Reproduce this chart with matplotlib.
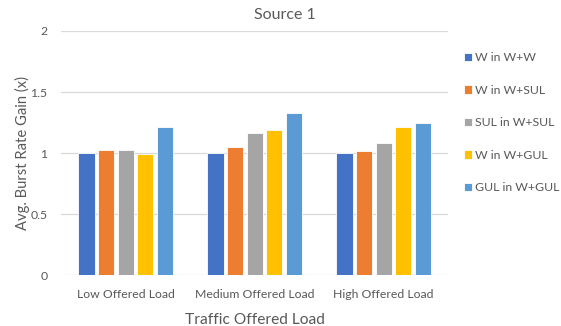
import numpy as np
import matplotlib
matplotlib.use("Agg")
import matplotlib.pyplot as plt

plt.rcParams['font.family'] = ['Lato', 'DejaVu Sans']

# Burst rate gain per offered load level
categories = ["Low Offered Load", "Medium Offered Load", "High Offered Load"]
series_names = ["W in W+W", "W in W+SUL", "SUL in W+SUL", "W in W+GUL", "GUL in W+GUL"]
w_in_ww = [1.00, 1.00, 1.00]
w_in_wsul = [1.025, 1.05, 1.015]
sul_in_wsul = [1.025, 1.165, 1.085]
w_in_wgul = [0.995, 1.19, 1.21]
gul_in_wgul = [1.21, 1.325, 1.245]
colors = ["#4472C4", "#ED7D31", "#A5A5A5", "#FFC000", "#5B9BD5"]

all_series = [w_in_ww, w_in_wsul, sul_in_wsul, w_in_wgul, gul_in_wgul]
text_color = "#595959"

fig = plt.figure(figsize=(5.61, 3.26), dpi=100)
ax = fig.add_axes([0.109, 0.156, 0.690, 0.749])

x = np.arange(len(categories))
step = 0.152
width = 0.125
for i, (vals, name, c) in enumerate(zip(all_series, series_names, colors)):
    ax.bar(x + (i - 2) * step, vals, width=width, color=c, label=name,
           edgecolor="white", linewidth=0.6, zorder=3)

ax.set_xlim(-0.5, 2.5)
ax.set_ylim(0, 2)
ax.set_yticks([0, 0.5, 1, 1.5, 2])
ax.set_yticklabels(["0", "0.5", "1", "1.5", "2"])
ax.set_xticks(x)
ax.set_xticklabels(categories)
ax.tick_params(axis="both", length=0, labelsize=8.8, labelcolor=text_color)
ax.tick_params(axis="x", pad=10)
ax.tick_params(axis="y", pad=10)
ax.grid(axis="y", color="#D9D9D9", linewidth=0.9, zorder=0)
for s in ax.spines.values():
    s.set_visible(False)

fig.text(0.508, 0.953, "Source 1", fontsize=11.5, color=text_color,
         ha="center", va="center")
ax.set_xlabel("Traffic Offered Load", fontsize=11.2, color=text_color, labelpad=9)
ax.set_ylabel("Avg. Burst Rate Gain (x)", fontsize=10.6, color=text_color, labelpad=0)

leg = fig.legend(loc="upper left", bbox_to_anchor=(0.818, 0.855), frameon=False,
                 fontsize=8.8, labelcolor=text_color, labelspacing=1.76,
                 handlelength=0.7, handleheight=0.7, handletextpad=0.25,
                 borderaxespad=0)

fig.savefig("out.png", dpi=100, facecolor="white")
